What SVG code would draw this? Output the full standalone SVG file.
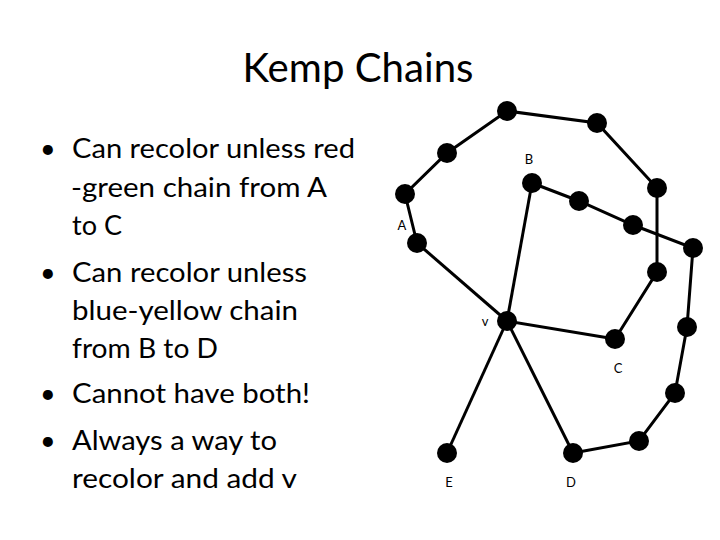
<svg xmlns="http://www.w3.org/2000/svg" width="720" height="540" viewBox="0 0 720 540">
<style>
.title{font-family:Lato,"Open Sans",sans-serif;font-size:40px;fill:#000}
.txt{font-family:Lato,"Open Sans",sans-serif;font-size:27px;fill:#000}
.lbl{font-family:Lato,"Open Sans",sans-serif;font-size:13px;fill:#000;text-anchor:middle}
.e{stroke:#000;stroke-width:3;fill:none}
.n{fill:#000}
</style>
<rect width="720" height="540" fill="#fff"/>
<text class="title" x="358" y="82" text-anchor="middle" textLength="231" lengthAdjust="spacingAndGlyphs">Kemp Chains</text>
<g id="bullets">
<text class="txt" x="40" y="158">•</text>
<text class="txt" x="72" y="158" textLength="283" lengthAdjust="spacingAndGlyphs">Can recolor unless red</text>
<text class="txt" x="71" y="197" textLength="256" lengthAdjust="spacingAndGlyphs">-green chain from A</text>
<text class="txt" x="72" y="235" textLength="50" lengthAdjust="spacingAndGlyphs">to C</text>
<text class="txt" x="40" y="282">•</text>
<text class="txt" x="72" y="282" textLength="235" lengthAdjust="spacingAndGlyphs">Can recolor unless</text>
<text class="txt" x="72" y="320" textLength="226" lengthAdjust="spacingAndGlyphs">blue-yellow chain</text>
<text class="txt" x="72" y="358" textLength="146" lengthAdjust="spacingAndGlyphs">from B to D</text>
<text class="txt" x="40" y="403">•</text>
<text class="txt" x="72" y="403" textLength="238" lengthAdjust="spacingAndGlyphs">Cannot have both!</text>
<text class="txt" x="40" y="450">•</text>
<text class="txt" x="72" y="450" textLength="205" lengthAdjust="spacingAndGlyphs">Always a way to</text>
<text class="txt" x="72" y="488" textLength="225" lengthAdjust="spacingAndGlyphs">recolor and add v</text>
</g>
<g id="connectors">
<polyline class="e" points="417,243 405,194 447,153 507,111 597,123 657,188 657,272 615,339"/>
<line class="e" x1="417" y1="243" x2="507" y2="321"/>
<line class="e" x1="532" y1="183" x2="507" y2="321"/>
<polyline class="e" points="532,183 579,201 633,225 693,248 687,327 675,393 639,441 573,453"/>
<line class="e" x1="507" y1="321" x2="615" y2="339"/>
<line class="e" x1="507" y1="321" x2="447" y2="453"/>
<line class="e" x1="507" y1="321" x2="573" y2="453"/>
</g>
<g id="n1"><circle class="n" cx="405" cy="194" r="10"/></g>
<g id="nA"><circle class="n" cx="417" cy="243" r="10"/><text class="lbl" x="402" y="230">A</text></g>
<g id="n2"><circle class="n" cx="447" cy="153" r="10"/></g>
<g id="n3"><circle class="n" cx="507" cy="111" r="10"/></g>
<g id="n4"><circle class="n" cx="597" cy="123" r="10"/></g>
<g id="n5"><circle class="n" cx="657" cy="188" r="10"/></g>
<g id="n6"><circle class="n" cx="657" cy="272" r="10"/></g>
<g id="nC"><circle class="n" cx="615" cy="339" r="10"/><text class="lbl" x="618" y="373">C</text></g>
<g id="nB"><circle class="n" cx="532" cy="183" r="10"/><text class="lbl" x="529" y="164">B</text></g>
<g id="n7"><circle class="n" cx="579" cy="201" r="10"/></g>
<g id="n8"><circle class="n" cx="633" cy="225" r="10"/></g>
<g id="n9"><circle class="n" cx="693" cy="248" r="10"/></g>
<g id="n10"><circle class="n" cx="687" cy="327" r="10"/></g>
<g id="n11"><circle class="n" cx="675" cy="393" r="10"/></g>
<g id="n12"><circle class="n" cx="639" cy="441" r="10"/></g>
<g id="nD"><circle class="n" cx="573" cy="453" r="10"/><text class="lbl" x="571" y="487">D</text></g>
<g id="nE"><circle class="n" cx="447" cy="453" r="10"/><text class="lbl" x="449" y="487">E</text></g>
<g id="nv"><circle class="n" cx="507" cy="321" r="10"/><text class="lbl" x="485" y="326">v</text></g>
</svg>
